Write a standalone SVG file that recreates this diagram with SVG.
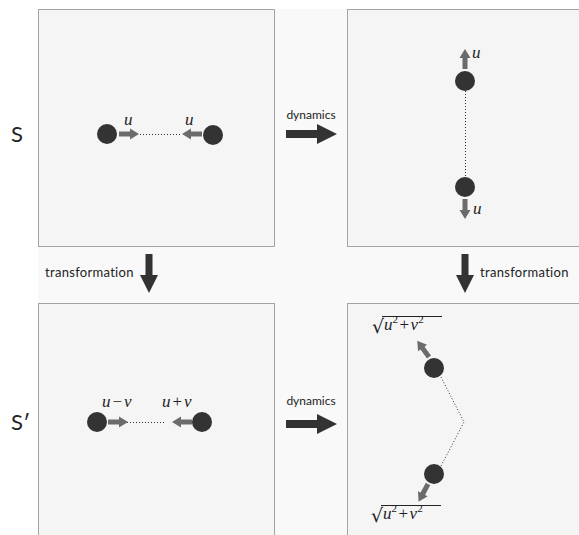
<svg xmlns="http://www.w3.org/2000/svg" xmlns:xlink="http://www.w3.org/1999/xlink" width="579" height="535" viewBox="0 0 579 535">
<style>
.panel{fill:#f5f5f5;stroke:#a3a3a3;stroke-width:1}
.ball{fill:#333}
.dot{stroke:#333;stroke-width:1;stroke-dasharray:1 2;fill:none}
.lbl{font-family:Lato,"Open Sans",sans-serif;font-size:12px;fill:#222}
.tr{font-size:13px;letter-spacing:0.3px}
.sys{font-family:Lato,"Open Sans",sans-serif;font-size:22px;fill:#222}
</style>
<defs>
<path id="ga" d="M0,-2.5 H11 V-5.5 L20,0 L11,5.5 V2.5 H0 Z" fill="#6b6b6b"/>
<path id="ba" d="M0,-4 H31 V-10 L51,0 L31,10 V4 H0 Z" fill="#333"/>
<path id="va" d="M-3.5,0 V21 H-9 L0,39 L9,21 H3.5 V0 Z" fill="#333"/>
</defs>
<rect x="0" y="0" width="579" height="535" fill="#fff"/>
<rect x="38" y="9" width="541" height="526" fill="#f9f9f9"/>
<text class="sys" x="11" y="142">S</text>
<text class="sys" x="11" y="430">S′</text>

<g id="panel-s-before">
<rect class="panel" x="38.5" y="9.5" width="236" height="237"/>
<line class="dot" x1="140" y1="134.5" x2="181" y2="134.5"/>
<circle class="ball" cx="107" cy="134" r="10"/>
<circle class="ball" cx="213" cy="135" r="10"/>
<use xlink:href="#ga" transform="translate(119,134)"/>
<use xlink:href="#ga" transform="translate(202,134) rotate(180)"/>
<text font-family="Liberation Serif, DejaVu Serif, serif" font-style="italic" font-size="17" fill="#222" x="124" y="125">u</text>
<text font-family="Liberation Serif, DejaVu Serif, serif" font-style="italic" font-size="17" fill="#222" x="185" y="125">u</text>
</g>

<g id="panel-s-after">
<rect class="panel" x="347.5" y="9.5" width="236" height="237"/>
<line class="dot" x1="465.5" y1="91" x2="465.5" y2="177"/>
<circle class="ball" cx="465" cy="81" r="10"/>
<circle class="ball" cx="465" cy="187" r="10"/>
<use xlink:href="#ga" transform="translate(465,69) rotate(-90)"/>
<use xlink:href="#ga" transform="translate(465,199) rotate(90)"/>
<text font-family="Liberation Serif, DejaVu Serif, serif" font-style="italic" font-size="17" fill="#222" x="472" y="58">u</text>
<text font-family="Liberation Serif, DejaVu Serif, serif" font-style="italic" font-size="17" fill="#222" x="473" y="214">u</text>
</g>

<g id="panel-sp-before">
<rect class="panel" x="38.5" y="303.5" width="236" height="240"/>
<line class="dot" x1="127" y1="422.5" x2="166" y2="422.5"/>
<circle class="ball" cx="97" cy="422" r="10"/>
<circle class="ball" cx="202" cy="422" r="10"/>
<use xlink:href="#ga" transform="translate(108,422)"/>
<use xlink:href="#ga" transform="translate(192,422) rotate(180)"/>
<text font-family="Liberation Serif, DejaVu Serif, serif" font-size="17" fill="#222" x="102" y="407"><tspan font-style="italic">u</tspan><tspan dx="2">−</tspan><tspan dx="2" font-style="italic">v</tspan></text>
<text font-family="Liberation Serif, DejaVu Serif, serif" font-size="17" fill="#222" x="162" y="407"><tspan font-style="italic">u</tspan><tspan dx="2">+</tspan><tspan dx="2" font-style="italic">v</tspan></text>
</g>

<g id="panel-sp-after">
<rect class="panel" x="347.5" y="303.5" width="236" height="240"/>
<polyline class="dot" points="441,377 464,422 441,466"/>
<circle class="ball" cx="434" cy="368" r="10"/>
<circle class="ball" cx="434" cy="474" r="10"/>
<use xlink:href="#ga" transform="translate(429,357) rotate(-126)"/>
<use xlink:href="#ga" transform="translate(428,484) rotate(118)"/>
<text font-family="DejaVu Serif, serif" font-size="19" fill="#222" x="372" y="333">√</text>
<text font-family="Liberation Serif, DejaVu Serif, serif" font-size="17" fill="#222" x="384" y="330"><tspan font-style="italic">u</tspan><tspan font-size="11" dy="-7">2</tspan><tspan dx="1.5" dy="7">+</tspan><tspan dx="1.5" font-style="italic">v</tspan><tspan font-size="11" dy="-7">2</tspan></text>
<line x1="382" y1="316.5" x2="442" y2="316.5" stroke="#222" stroke-width="1"/>
<text font-family="DejaVu Serif, serif" font-size="19" fill="#222" x="371" y="522">√</text>
<text font-family="Liberation Serif, DejaVu Serif, serif" font-size="17" fill="#222" x="383" y="519"><tspan font-style="italic">u</tspan><tspan font-size="11" dy="-7">2</tspan><tspan dx="1.5" dy="7">+</tspan><tspan dx="1.5" font-style="italic">v</tspan><tspan font-size="11" dy="-7">2</tspan></text>
<line x1="381" y1="505.5" x2="441" y2="505.5" stroke="#222" stroke-width="1"/>
</g>

<g id="connectors">
<use xlink:href="#ba" transform="translate(286,134)"/>
<text class="lbl" x="311" y="119" text-anchor="middle">dynamics</text>
<use xlink:href="#ba" transform="translate(286,424)"/>
<text class="lbl" x="311" y="405" text-anchor="middle">dynamics</text>
<use xlink:href="#va" transform="translate(149,254)"/>
<text class="lbl tr" x="45" y="277">transformation</text>
<use xlink:href="#va" transform="translate(465,254)"/>
<text class="lbl tr" x="480" y="277">transformation</text>
</g>
</svg>
